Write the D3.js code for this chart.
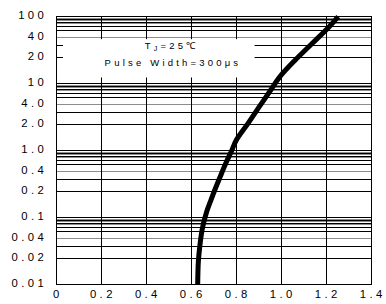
<!DOCTYPE html>
<html>
<head>
<meta charset="utf-8">
<script src="https://cdn.jsdelivr.net/npm/d3@7"></script>
<style>
  body { margin: 0; background: #fff; }
  svg { display: block; }
  text { font-family: "Liberation Sans", Arial, sans-serif; fill: #000; }
</style>
</head>
<body>
<script>
// Forward voltage (V) vs forward current (A)
var voltage = [0.627, 0.630, 0.637, 0.648, 0.667, 0.686, 0.703, 0.727, 0.752, 0.778, 0.799, 0.851, 0.901, 0.952, 0.992, 1.061, 1.137, 1.212, 1.252];
var current = [0.01, 0.0185, 0.032, 0.063, 0.117, 0.16, 0.212, 0.336, 0.577, 1.0, 1.33, 2.1, 3.73, 7.6, 12, 18.8, 32.9, 64.6, 100];

var xTicks = [0, 0.2, 0.4, 0.6, 0.8, 1.0, 1.2, 1.4];
var xTickLabels = ["0", "0.2", "0.4", "0.6", "0.8", "1.0", "1.2", "1.4"];
var yTicks = [0.01, 0.02, 0.04, 0.1, 0.2, 0.4, 1, 2, 4, 10, 20, 40, 100];
var yTickLabels = ["0.01", "0.02", "0.04", "0.1", "0.2", "0.4", "1.0", "2.0", "4.0", "10", "20", "40", "100"];

// the printed grid is not a true log grid: lines inside every decade
var decades = [0.01, 0.1, 1, 10];
var gridSteps = [2, 3, 4, 5.4, 6.6, 7.3, 7.8, 8.3, 8.8, 9.3];
var graySteps = [4, 7.3, 8.3, 9.3];

var width = 386, height = 304;
var margin = {top: 16.7, right: 14.5, bottom: 19.3, left: 56.7};
var w = width - margin.left - margin.right;
var h = height - margin.top - margin.bottom;

var svg = d3.select("body").append("svg")
  .attr("width", width)
  .attr("height", height);

var g = svg.append("g")
  .attr("transform", "translate(" + margin.left + "," + margin.top + ")");

var x = d3.scaleLinear().domain([0, 1.4]).range([0, w]);

// warped log axis: 2 and 4 sit lower in each decade than on a real log scale
var warp = {1: 0, 2: 0.388, 4: 0.687};
var yDomain = [], yRange = [];
decades.forEach(function(d, i) {
  [1, 2, 4].forEach(function(m) {
    yDomain.push(Math.log10(d * m));
    yRange.push(h - (i + warp[m]) * h / decades.length);
  });
});
yDomain.push(2); yRange.push(0);
var yLin = d3.scaleLinear().domain(yDomain).range(yRange);
var y = function(v) { return yLin(Math.log10(v)); };

// horizontal grid
var gridVals = [];
decades.forEach(function(d) {
  gridVals.push({v: d, gray: false});
  gridSteps.forEach(function(s) {
    gridVals.push({v: d * s, gray: graySteps.indexOf(s) >= 0, thick: s === 4});
  });
});

g.append("g").selectAll("line")
  .data(gridVals)
  .enter().append("line")
  .attr("x1", 0).attr("x2", w)
  .attr("y1", function(d) { return y(d.v); })
  .attr("y2", function(d) { return y(d.v); })
  .attr("stroke", function(d) { return d.gray ? "#8c8c8c" : "#000"; })
  .attr("stroke-width", function(d) { return d.thick ? 1.6 : 1; })
  .attr("shape-rendering", "crispEdges");

// vertical grid
g.append("g").selectAll("line")
  .data(xTicks)
  .enter().append("line")
  .attr("x1", function(d) { return x(d); })
  .attr("x2", function(d) { return x(d); })
  .attr("y1", 0).attr("y2", h)
  .attr("stroke", "#000")
  .attr("stroke-width", 1)
  .attr("shape-rendering", "crispEdges");

// frame
g.append("rect")
  .attr("width", w).attr("height", h)
  .attr("fill", "none").attr("stroke", "#000")
  .attr("shape-rendering", "crispEdges");

// legend box hides the grid
g.append("rect")
  .attr("x", x(0.028)).attr("y", y(38))
  .attr("width", x(0.88) - x(0.028))
  .attr("height", y(11.8) - y(38))
  .attr("fill", "#fff");

var note = g.append("g").style("font-size", "9.5px").style("letter-spacing", "3.2px");
var t1 = note.append("text")
  .attr("x", x(0.5) + 2.5).attr("y", y(30) + 3.5)
  .attr("text-anchor", "middle");
t1.append("tspan").text("T");
t1.append("tspan").attr("dy", 1.5).style("font-size", "7px").text("J");
t1.append("tspan").attr("dy", -1.5).text("=25℃");

note.append("text")
  .attr("x", x(0.51) + 1.6).attr("y", y(17.5) + 3.5)
  .attr("text-anchor", "middle")
  .text("Pulse Width=300μs");

// curve
var line = d3.line()
  .x(function(d, i) { return x(voltage[i]); })
  .y(function(d, i) { return y(current[i]); })
  .curve(d3.curveCatmullRom.alpha(0.5));

g.append("path")
  .datum(current)
  .attr("d", line)
  .attr("fill", "none")
  .attr("stroke", "#000")
  .attr("stroke-width", 5);

// tick labels
var labels = svg.append("g").style("font-size", "11.3px").style("letter-spacing", "3.4px");

labels.selectAll(".yl")
  .data(yTicks)
  .enter().append("text")
  .attr("class", "yl")
  .attr("x", margin.left - 9.5)
  .attr("y", function(d) { return margin.top + y(d) - 2; })
  .attr("dy", "0.35em")
  .attr("text-anchor", "end")
  .text(function(d, i) { return yTickLabels[i]; });

labels.selectAll(".xl")
  .data(xTicks)
  .enter().append("text")
  .attr("class", "xl")
  .attr("x", function(d) { return margin.left + x(d) + 1.2; })
  .attr("y", margin.top + h + 9.5)
  .attr("dy", "0.35em")
  .attr("text-anchor", "middle")
  .text(function(d, i) { return xTickLabels[i]; });
</script>
</body>
</html>
